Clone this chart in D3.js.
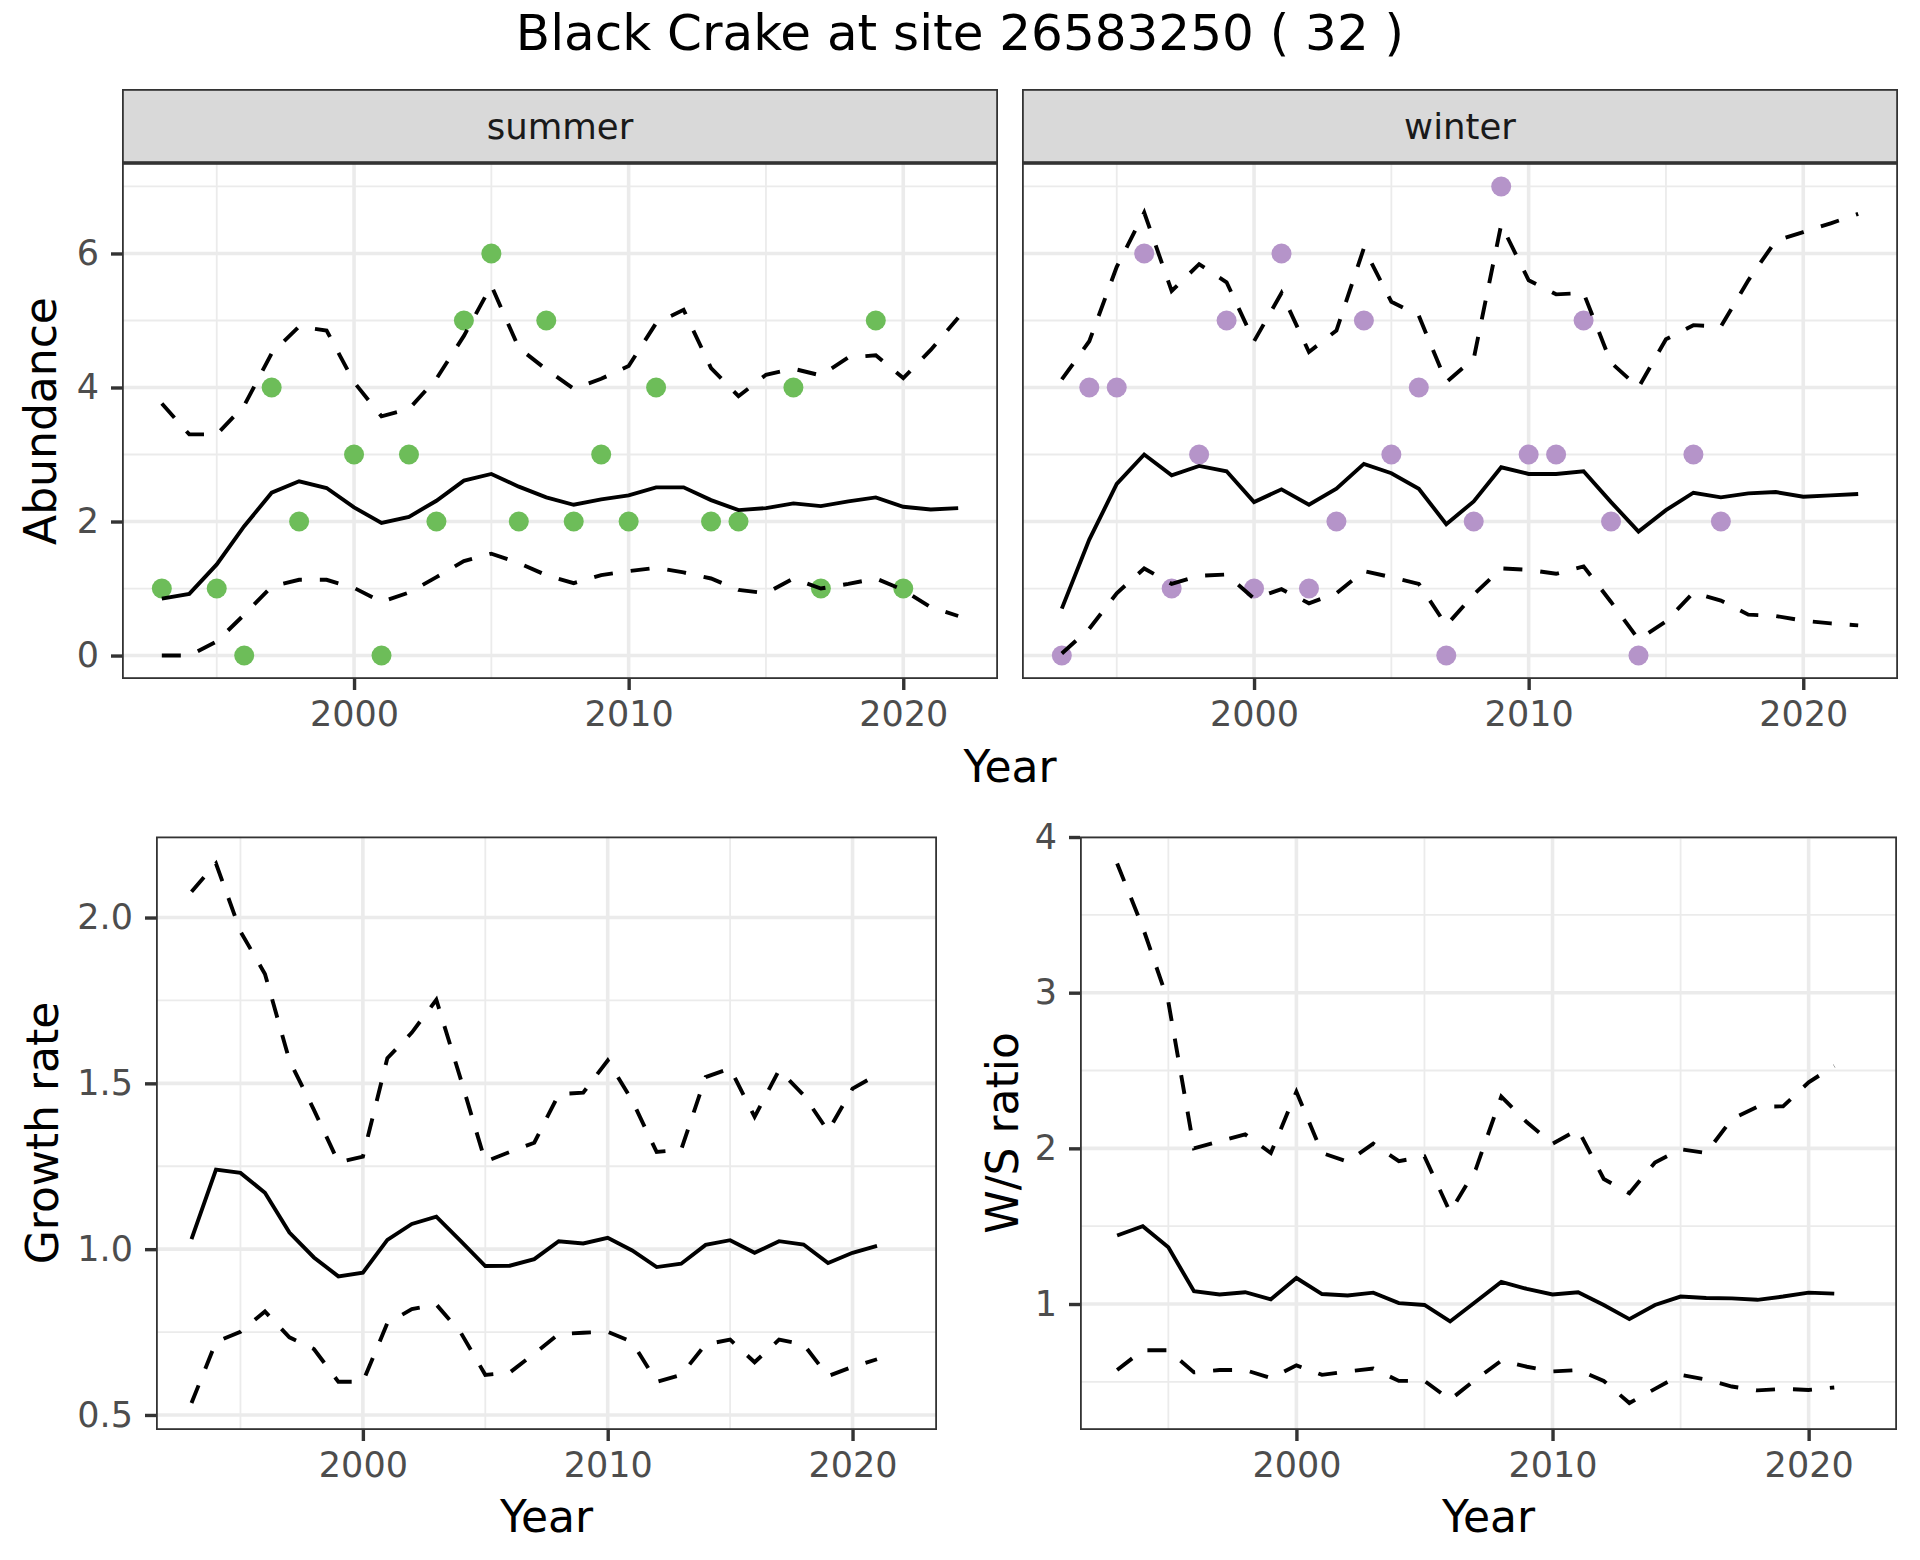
<!DOCTYPE html>
<html>
<head>
<meta charset="utf-8">
<script src="https://cdnjs.cloudflare.com/ajax/libs/d3/7.8.5/d3.min.js"></script>
<style>
body { margin: 0; background: #ffffff; }
text { font-family: "DejaVu Sans", sans-serif; }
</style>
</head>
<body>
<div class="container"></div>
<script>
const WIDTH = 1920;
const HEIGHT = 1560;
const GRID = '#EBEBEB';
const DARK = '#333333';
const LINE_W = 3.9;
const DASH = '19,18';

// modelled years (top row runs to 2022, bottom row to 2021)
const YEARS = [1993, 1994, 1995, 1996, 1997, 1998, 1999, 2000, 2001, 2002,
    2003, 2004, 2005, 2006, 2007, 2008, 2009, 2010, 2011, 2012,
    2013, 2014, 2015, 2016, 2017, 2018, 2019, 2020, 2021, 2022];
const RATE_YEARS = YEARS.slice(0, 29);

const X_MAJOR = [2000, 2010, 2020];
const X_MINOR = [1995, 2005, 2015];

// observed counts
const summerPtYears = [1993, 1995, 1996, 1997, 1998, 2000, 2001, 2002, 2003, 2004, 2005, 2006,
    2007, 2008, 2009, 2010, 2011, 2013, 2014, 2016, 2017, 2019, 2020];
const summerCounts = [1, 1, 0, 4, 2, 3, 0, 3, 2, 5, 6, 2, 5, 2, 3, 2, 4, 2, 2, 4, 1, 5, 1];

const winterPtYears = [1993, 1994, 1995, 1996, 1997, 1998, 1999, 2000, 2001, 2002, 2003, 2004,
    2005, 2006, 2007, 2008, 2009, 2010, 2011, 2012, 2013, 2014, 2016, 2017];
const winterCounts = [0, 4, 4, 6, 1, 3, 5, 1, 6, 1, 2, 5, 3, 4, 0, 2, 7, 3, 3, 5, 2, 0, 3, 2];

// modelled abundance with bounds
const summerMid = [0.85, 0.92, 1.36, 1.93, 2.43, 2.60, 2.50, 2.21, 1.98, 2.07, 2.31, 2.61, 2.71, 2.52, 2.36,
    2.25, 2.33, 2.39, 2.51, 2.51, 2.32, 2.17, 2.20, 2.27, 2.23, 2.30, 2.36, 2.22, 2.18, 2.20];
const summerHi = [3.76, 3.30, 3.30, 3.73, 4.51, 4.91, 4.85, 4.08, 3.57, 3.68, 4.13, 4.77, 5.52, 4.59, 4.27,
    3.98, 4.13, 4.32, 4.96, 5.16, 4.29, 3.87, 4.19, 4.28, 4.18, 4.45, 4.48, 4.14, 4.56, 5.04];
const summerLo = [0, 0, 0.21, 0.61, 1.03, 1.13, 1.13, 1.01, 0.80, 0.94, 1.17, 1.41, 1.52, 1.38, 1.20,
    1.08, 1.20, 1.26, 1.31, 1.24, 1.15, 0.98, 0.93, 1.15, 1.00, 1.07, 1.15, 0.98, 0.72, 0.59];

const winterMid = [0.70, 1.73, 2.56, 3.00, 2.69, 2.83, 2.75, 2.29, 2.48, 2.25, 2.49, 2.86, 2.72, 2.49, 1.96,
    2.30, 2.81, 2.71, 2.71, 2.75, 2.29, 1.85, 2.17, 2.43, 2.36, 2.42, 2.44, 2.37, 2.39, 2.41];
const winterHi = [4.12, 4.69, 5.80, 6.61, 5.44, 5.84, 5.57, 4.69, 5.41, 4.53, 4.85, 6.08, 5.28, 5.07, 4.08,
    4.43, 6.43, 5.60, 5.39, 5.41, 4.37, 4.00, 4.72, 4.93, 4.91, 5.60, 6.19, 6.32, 6.45, 6.59];
const winterLo = [0.03, 0.40, 0.93, 1.30, 1.07, 1.19, 1.21, 0.85, 0.99, 0.78, 0.93, 1.26, 1.17, 1.07, 0.45,
    0.91, 1.30, 1.28, 1.22, 1.33, 0.80, 0.24, 0.51, 0.94, 0.82, 0.61, 0.59, 0.52, 0.48, 0.45];

// growth rate
const growthMid = [1.03, 1.24, 1.23, 1.17, 1.05, 0.975, 0.918, 0.929, 1.028, 1.076, 1.098, 1.024, 0.949, 0.95,
    0.97, 1.024, 1.017, 1.034, 0.996, 0.946, 0.956, 1.013, 1.027, 0.989, 1.024, 1.014, 0.958, 0.989, 1.01];
const growthHi = [2.078, 2.163, 1.958, 1.83, 1.569, 1.42, 1.262, 1.279, 1.576, 1.653, 1.752, 1.512, 1.264, 1.293,
    1.321, 1.467, 1.472, 1.569, 1.448, 1.293, 1.30, 1.519, 1.545, 1.399, 1.54, 1.465, 1.356, 1.484, 1.526];
const growthLo = [0.536, 0.72, 0.751, 0.812, 0.734, 0.699, 0.6, 0.6, 0.777, 0.819, 0.833, 0.748, 0.621, 0.628,
    0.685, 0.744, 0.748, 0.751, 0.72, 0.6, 0.621, 0.713, 0.727, 0.659, 0.727, 0.713, 0.617, 0.645, 0.668];

// winter / summer ratio
const ratioMid = [1.44, 1.50, 1.364, 1.082, 1.061, 1.076, 1.03, 1.167, 1.064, 1.055, 1.073, 1.006, 0.994, 0.888,
    1.015, 1.142, 1.097, 1.061, 1.076, 0.994, 0.903, 0.994, 1.048, 1.039, 1.036, 1.027, 1.048, 1.073, 1.067];
const ratioHi = [3.83, 3.42, 2.94, 2.0, 2.045, 2.09, 1.97, 2.364, 1.97, 1.915, 2.03, 1.918, 1.948, 1.59,
    1.864, 2.333, 2.167, 2.03, 2.12, 1.803, 1.712, 1.909, 1.994, 1.97, 2.188, 2.267, 2.27, 2.424, 2.53];
const ratioLo = [0.576, 0.703, 0.703, 0.561, 0.576, 0.576, 0.524, 0.606, 0.545, 0.567, 0.585, 0.506, 0.506, 0.385,
    0.515, 0.636, 0.597, 0.567, 0.576, 0.506, 0.364, 0.455, 0.545, 0.515, 0.47, 0.445, 0.455, 0.448, 0.464];

var translate = function(x, y) {
    return `translate(${x},${y})`;
};

// ggplot style 5% expansion
var expand = function(values) {
    let ext = d3.extent(values);
    let pad = (ext[1] - ext[0]) * 0.05;
    return [ext[0] - pad, ext[1] + pad];
};

const X_DOMAIN = expand(YEARS);
const ABUND_DOMAIN = expand([].concat(summerCounts, winterCounts, summerHi, summerLo, winterHi, winterLo));
const GROWTH_DOMAIN = expand([].concat(growthHi, growthLo));
const RATIO_DOMAIN = expand([].concat(ratioHi, ratioLo));

var styleAxis = function(axisG) {
    axisG.attr('font-family', '"DejaVu Sans", sans-serif').attr('font-size', 35);
    axisG.select('.domain').remove();
    axisG.selectAll('.tick line').attr('stroke', DARK).attr('stroke-width', 3.4);
    axisG.selectAll('.tick text').attr('fill', '#4D4D4D');
};

var gridLines = function(g, values, horizontal, scale, p, width) {
    g.selectAll(null).data(values).enter()
        .append('line')
        .attr('x1', (d) => horizontal ? p.left : scale(d))
        .attr('x2', (d) => horizontal ? p.right : scale(d))
        .attr('y1', (d) => horizontal ? scale(d) : p.top)
        .attr('y2', (d) => horizontal ? scale(d) : p.bottom)
        .attr('stroke', GRID)
        .attr('stroke-width', width);
};

var drawPanel = function(svg, id, p) {
    let xScale = d3.scaleLinear().domain(X_DOMAIN).range([p.left, p.right]);
    let yScale = d3.scaleLinear().domain(p.yDomain).range([p.bottom, p.top]);

    svg.append('clipPath').attr('id', id)
        .append('rect')
        .attr('x', p.left).attr('y', p.top)
        .attr('width', p.right - p.left).attr('height', p.bottom - p.top);

    let g = svg.append('g').attr('clip-path', `url(#${id})`);

    gridLines(g, X_MINOR, false, xScale, p, 1.8);
    gridLines(g, p.yMinor, true, yScale, p, 1.8);
    gridLines(g, X_MAJOR, false, xScale, p, 3.6);
    gridLines(g, p.yMajor, true, yScale, p, 3.6);

    if (p.points) {
        g.selectAll('circle').data(p.points.years).enter()
            .append('circle')
            .attr('cx', (d) => xScale(d))
            .attr('cy', (d, i) => yScale(p.points.values[i]))
            .attr('r', 10)
            .attr('fill', p.points.colour);
    }

    p.lines.forEach(function(series) {
        let line = d3.line()
            .x((d, i) => xScale(series.years[i]))
            .y((d) => yScale(d));
        g.append('path')
            .attr('d', line(series.values))
            .attr('fill', 'none')
            .attr('stroke', '#000000')
            .attr('stroke-width', LINE_W)
            .attr('stroke-dasharray', series.dashed ? DASH : null);
    });

    svg.append('rect')
        .attr('x', p.left + 0.9).attr('y', p.top + 0.9)
        .attr('width', p.right - p.left - 1.8).attr('height', p.bottom - p.top - 1.8)
        .attr('fill', 'none')
        .attr('stroke', DARK)
        .attr('stroke-width', 1.8);

    let xAxis = d3.axisBottom(xScale).tickValues(X_MAJOR).tickSize(11).tickPadding(11)
        .tickFormat(d3.format('d'));
    svg.append('g').attr('transform', translate(0, p.bottom)).call(xAxis).call(styleAxis);

    if (p.yFormat) {
        let yAxis = d3.axisLeft(yScale).tickValues(p.yMajor).tickSize(11).tickPadding(12)
            .tickFormat(p.yFormat);
        svg.append('g').attr('transform', translate(p.left, 0)).call(yAxis).call(styleAxis);
    }

    if (p.strip) {
        svg.append('rect')
            .attr('x', p.left + 0.9).attr('y', 89.9)
            .attr('width', p.right - p.left - 1.8).attr('height', p.top - 89 - 1.8)
            .attr('fill', '#D9D9D9')
            .attr('stroke', DARK)
            .attr('stroke-width', 1.8);
        svg.append('text')
            .attr('x', (p.left + p.right) / 2).attr('y', 139)
            .attr('text-anchor', 'middle')
            .attr('font-size', 35.5)
            .attr('fill', '#1A1A1A')
            .text(p.strip);
    }
};

var axisTitle = function(svg, label, x, y, rotate) {
    svg.append('text')
        .attr('transform', translate(x, y) + (rotate ? ' rotate(-90)' : ''))
        .attr('text-anchor', 'middle')
        .attr('font-size', 44)
        .attr('fill', '#000000')
        .text(label);
};

window.onload = function() {
    var svg = d3.select('.container').append('svg')
        .attr('width', WIDTH)
        .attr('height', HEIGHT);

    svg.append('rect').attr('width', WIDTH).attr('height', HEIGHT).attr('fill', '#ffffff');

    svg.append('text')
        .attr('x', 960).attr('y', 50)
        .attr('text-anchor', 'middle')
        .attr('font-size', 50)
        .attr('fill', '#000000')
        .text('Black Crake at site 26583250 ( 32 )');

    let abundMajor = [0, 2, 4, 6];
    let abundMinor = [1, 3, 5, 7];

    drawPanel(svg, 'clip-summer', {
        left: 122, right: 998, top: 163, bottom: 679,
        yDomain: ABUND_DOMAIN, yMajor: abundMajor, yMinor: abundMinor,
        yFormat: d3.format('d'), strip: 'summer',
        points: {years: summerPtYears, values: summerCounts, colour: '#6DBD59'},
        lines: [
            {years: YEARS, values: summerMid, dashed: false},
            {years: YEARS, values: summerHi, dashed: true},
            {years: YEARS, values: summerLo, dashed: true}
        ]
    });

    drawPanel(svg, 'clip-winter', {
        left: 1022, right: 1898, top: 163, bottom: 679,
        yDomain: ABUND_DOMAIN, yMajor: abundMajor, yMinor: abundMinor,
        yFormat: null, strip: 'winter',
        points: {years: winterPtYears, values: winterCounts, colour: '#B594C9'},
        lines: [
            {years: YEARS, values: winterMid, dashed: false},
            {years: YEARS, values: winterHi, dashed: true},
            {years: YEARS, values: winterLo, dashed: true}
        ]
    });

    drawPanel(svg, 'clip-growth', {
        left: 156, right: 937, top: 836.5, bottom: 1430,
        yDomain: GROWTH_DOMAIN, yMajor: [0.5, 1.0, 1.5, 2.0], yMinor: [0.75, 1.25, 1.75],
        yFormat: d3.format('.1f'),
        lines: [
            {years: RATE_YEARS, values: growthMid, dashed: false},
            {years: RATE_YEARS, values: growthHi, dashed: true},
            {years: RATE_YEARS, values: growthLo, dashed: true}
        ]
    });

    drawPanel(svg, 'clip-ratio', {
        left: 1080, right: 1897, top: 836.5, bottom: 1430,
        yDomain: RATIO_DOMAIN, yMajor: [1, 2, 3, 4], yMinor: [0.5, 1.5, 2.5, 3.5],
        yFormat: d3.format('d'),
        lines: [
            {years: RATE_YEARS, values: ratioMid, dashed: false},
            {years: RATE_YEARS, values: ratioHi, dashed: true},
            {years: RATE_YEARS, values: ratioLo, dashed: true}
        ]
    });

    axisTitle(svg, 'Year', 1010, 782, false);
    axisTitle(svg, 'Year', 546.5, 1532, false);
    axisTitle(svg, 'Year', 1488.5, 1532, false);
    axisTitle(svg, 'Abundance', 56, 421, true);
    axisTitle(svg, 'Growth rate', 58, 1133, true);
    axisTitle(svg, 'W/S ratio', 1018, 1133, true);
};
</script>
</body>
</html>
